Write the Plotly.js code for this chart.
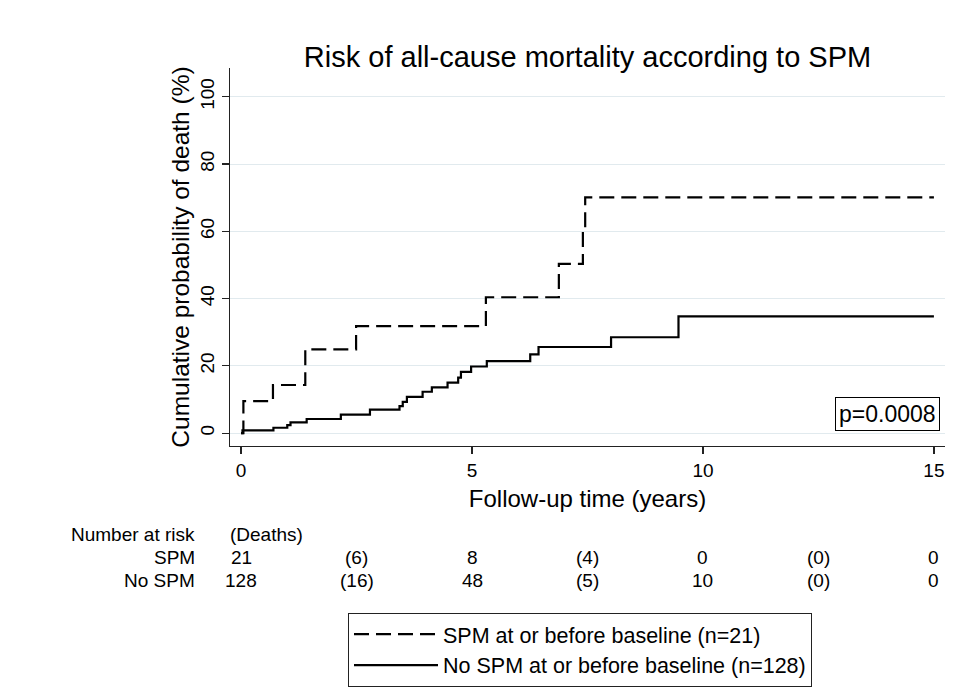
<!DOCTYPE html>
<html>
<head>
<meta charset="utf-8">
<script src="https://cdn.plot.ly/plotly-3.0.1.min.js"></script>
<style>html,body{margin:0;padding:0;background:#fff;}#chart{width:972px;height:698px;}</style>
</head>
<body>
<div id="chart"></div>
<script>
// ---- Data ----
const spmTimes  = [0, 0.05, 0.69, 1.39, 2.49, 5.30, 6.88, 7.40, 7.45, 15];
const spmCum    = [0, 9.5, 14.3, 24.9, 31.8, 40.4, 50.3, 60.1, 70.1, 70.1];
const noSpmTimes = [0, 0.03, 0.70, 1.00, 1.07, 1.42, 2.16, 2.79, 3.43, 3.50, 3.59, 3.93, 4.13, 4.47, 4.70, 4.76, 4.98, 5.32, 6.26, 6.44, 8.01, 9.47, 15];
const noSpmCum   = [0, 0.8, 1.6, 2.4, 3.2, 4.2, 5.5, 7.0, 8.0, 9.3, 10.8, 12.3, 13.6, 15.0, 16.5, 18.2, 19.8, 21.4, 23.4, 25.6, 28.5, 34.7, 34.7];

const seriesNames = ["SPM at or before baseline (n=21)", "No SPM at or before baseline (n=128)"];
const xTicks = [0, 5, 10, 15];
const yTicks = [0, 20, 40, 60, 80, 100];

// Number-at-risk table
const riskTimes    = [0, 5, 10, 15];
const spmAtRisk    = [21, 8, 0, 0];
const noSpmAtRisk  = [128, 48, 10, 0];
const deathMids    = [2.5, 7.5, 12.5];
const spmDeaths    = [6, 4, 0];
const noSpmDeaths  = [16, 5, 0];
const rowLabels    = ["SPM", "No SPM"];
const pText = "p=0.0008";

// ---- Layout constants ----
const FONT = "Liberation Sans, Arial, sans-serif";
const L = 230, R = 27, T = 68, B = 249, W = 972, H = 698;
const plotH = H - T - B;
const plotW = W - L - R;
const py = pix => (H - B - pix) / plotH;   // pixel row -> paper y
const px = pix => (pix - L) / plotW;       // pixel col -> paper x

const traces = [
  {x: spmTimes, y: spmCum, name: seriesNames[0], type: "scatter", mode: "lines",
   line: {shape: "hv", color: "#000", width: 2.2, dash: "15px,7px"}},
  {x: noSpmTimes, y: noSpmCum, name: seriesNames[1], type: "scatter", mode: "lines",
   line: {shape: "hv", color: "#000", width: 2.2}}
];

const annotations = [];
const tblFont = {family: FONT, size: 19, color: "#000"};
annotations.push({xref: "paper", yref: "paper", x: px(197), y: py(538), xanchor: "right", yanchor: "middle",
  text: "Number at risk", showarrow: false, font: tblFont});
annotations.push({xref: "paper", yref: "paper", x: px(228), y: py(538), xanchor: "left", yanchor: "middle",
  text: "(Deaths)", showarrow: false, font: tblFont});
const rowsY = [py(561), py(585)];
const atRisk = [spmAtRisk, noSpmAtRisk];
const deaths = [spmDeaths, noSpmDeaths];
for (let r = 0; r < 2; r++) {
  annotations.push({xref: "paper", yref: "paper", x: px(197), y: rowsY[r], xanchor: "right", yanchor: "middle",
    text: rowLabels[r], showarrow: false, font: tblFont});
  riskTimes.forEach((t, i) => annotations.push({xref: "x", yref: "paper", x: t, y: rowsY[r],
    xanchor: "center", yanchor: "middle", text: String(atRisk[r][i]), showarrow: false, font: tblFont}));
  deathMids.forEach((t, i) => annotations.push({xref: "x", yref: "paper", x: t, y: rowsY[r],
    xanchor: "center", yanchor: "middle", text: "(" + deaths[r][i] + ")", showarrow: false, font: tblFont}));
}
annotations.push({xref: "paper", yref: "y", x: px(940), y: 5.6, xanchor: "right", yanchor: "middle",
  text: pText, showarrow: false, font: {family: FONT, size: 23, color: "#000"},
  bordercolor: "#000", borderwidth: 1, borderpad: 3, bgcolor: "#fff"});

const layout = {
  width: W, height: H,
  margin: {l: L, r: R, t: T, b: B, pad: 0},
  paper_bgcolor: "#fff", plot_bgcolor: "#fff",
  font: {family: FONT, color: "#000"},
  title: {text: "Risk of all-cause mortality according to SPM", font: {family: FONT, size: 29, color: "#000"},
          xref: "paper", x: 0.5, xanchor: "center", yref: "container", y: 1 - 57 / H, yanchor: "middle"},
  xaxis: {range: [-0.24, 15.24], tickvals: xTicks, ticktext: xTicks.map(String), showgrid: false, zeroline: false,
          showline: true, linecolor: "#222", linewidth: 1.2, ticks: "outside", ticklen: 7, tickwidth: 1.2, tickcolor: "#222",
          tickfont: {family: FONT, size: 19, color: "#000"}, automargin: false,
          title: {text: "Follow-up time (years)", font: {family: FONT, size: 24, color: "#000"}, standoff: 10}},
  yaxis: {range: [-3.83, 108.55], tickvals: yTicks, ticktext: yTicks.map(String), showgrid: true, gridcolor: "#e1eaee", gridwidth: 1,
          zeroline: false, showline: true, linecolor: "#222", linewidth: 1.2, ticks: "outside", ticklen: 7, tickwidth: 1.2, tickcolor: "#222",
          tickangle: -90, tickfont: {family: FONT, size: 19, color: "#000"}, automargin: false,
          title: {text: "Cumulative probability of death (%)", font: {family: FONT, size: 24.5, color: "#000"}, standoff: 0}},
  showlegend: true,
  legend: {x: px(348), y: py(617), xanchor: "left", yanchor: "top", orientation: "v",
           bgcolor: "#fff", bordercolor: "#222", borderwidth: 1, itemwidth: 84,
           font: {family: FONT, size: 21.5, color: "#000"}, traceorder: "normal", tracegroupgap: 0},
  annotations: annotations
};

Plotly.newPlot("chart", traces, layout, {displayModeBar: false, staticPlot: true});
</script>
</body>
</html>
